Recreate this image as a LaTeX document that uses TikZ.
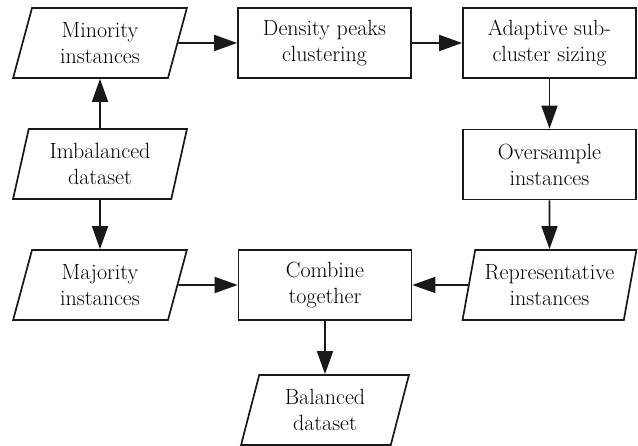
\documentclass[tikz,border=0pt]{standalone}
\usetikzlibrary{shapes.geometric,arrows.meta}
\begin{document}
\begin{tikzpicture}[x=1pt,y=1pt,
  every node/.style={font=\rmfamily\fontsize{22}{26}\selectfont, align=center, line width=1.7pt, draw=black!90, text=black, inner sep=0pt},
  procbox/.style={rectangle, minimum width=173pt, minimum height=70pt},
  iobox/.style={trapezium, trapezium left angle=75, trapezium right angle=105, trapezium stretches=true, minimum width=174pt, minimum height=70pt},
  arr/.style={line width=1.7pt, draw=black!90, -{Triangle[length=23pt,width=16pt]}}]
\useasboundingbox (0,0) rectangle (638,446);
\node[iobox] (min) at (100,403) {Minority\\instances};
\node[procbox] (den) at (324.5,403) {Density peaks\\clustering};
\node[procbox] (ada) at (549.5,403) {Adaptive sub-\\cluster sizing};
\node[iobox] (imb) at (100,282) {Imbalanced\\dataset};
\node[procbox] (ove) at (549.5,281.5) {Oversample\\instances};
\node[iobox] (maj) at (100,161) {Majority\\instances};
\node[procbox] (com) at (325,161) {Combine\\together};
\node[iobox] (rep) at (549.5,161) {Representative\\instances};
\node[iobox, minimum width=168pt] (bal) at (325,36) {Balanced\\dataset};
\draw[arr] (min.east) -- (den.west);
\draw[arr] (den.east) -- (ada.west);
\draw[arr] (imb.north) -- (min.south);
\draw[arr] (imb.south) -- (maj.north);
\draw[arr] (ada.south) -- (ove.north);
\draw[arr] (ove.south) -- (rep.north);
\draw[arr] (maj.east) -- (com.west);
\draw[arr] (rep.west) -- (com.east);
\draw[arr] (com.south) -- (bal.north);
\end{tikzpicture}
\end{document}
